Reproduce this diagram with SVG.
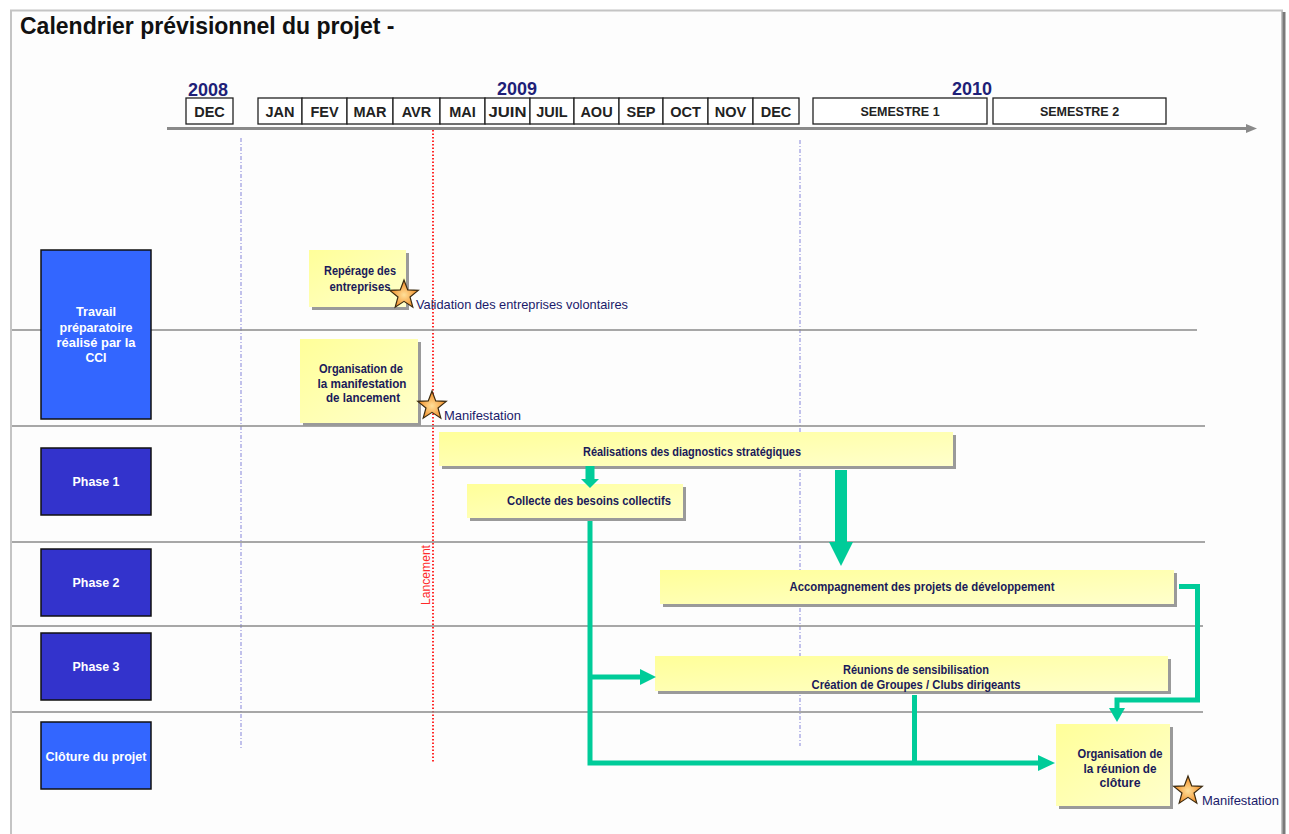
<svg xmlns="http://www.w3.org/2000/svg" width="1289" height="834" viewBox="0 0 1289 834">
  <style>
    .title { font-family: "Liberation Sans", Arial, sans-serif; font-weight: bold; font-size: 23px; fill: #111; }
    .year { font-family: "Liberation Sans", Arial, sans-serif; font-weight: bold; font-size: 18px; fill: #1f1f78; text-anchor: middle; }
    .mbox { fill: #fff; stroke: #222; stroke-width: 1.3; }
    .mtxt { font-family: "Liberation Sans", Arial, sans-serif; font-weight: bold; font-size: 14.5px; fill: #222; text-anchor: middle; }
    .stxt { font-family: "Liberation Sans", Arial, sans-serif; font-weight: bold; font-size: 12.5px; fill: #222; text-anchor: middle; }
    .row { stroke: #8a8a8a; stroke-width: 1.5; }
    .vguide { stroke: #9a9ae0; stroke-width: 1.2; stroke-dasharray: 4 2 1 2; }
    .launch { stroke: #ff2a2a; stroke-width: 2; stroke-dasharray: 1.5 2; }
    .lbl-light { fill: #3366ff; stroke: #111; stroke-width: 1.5; }
    .lbl-dark { fill: #3333cc; stroke: #111; stroke-width: 1.5; }
    .ltxt { font-family: "Liberation Sans", Arial, sans-serif; font-weight: bold; font-size: 12.5px; fill: #fff; text-anchor: middle; }
    .task { fill: url(#yel); }
    .shadow { fill: #9a9a9a; }
    .ttxt { font-family: "Liberation Sans", Arial, sans-serif; font-weight: bold; font-size: 13.5px; fill: #1a1a5a; text-anchor: middle; }
    .note { font-family: "Liberation Sans", Arial, sans-serif; font-size: 13px; fill: #1a1a6a; }
    .flow { fill: none; stroke: #00cc99; stroke-width: 5; }
    .head { fill: #00cc99; }
  </style>
  <defs>
    <linearGradient id="yel" x1="0" y1="0" x2="1" y2="1">
      <stop offset="0" stop-color="#ffff99"/>
      <stop offset="1" stop-color="#ffffcc"/>
    </linearGradient>
    <radialGradient id="starfill" cx="0.5" cy="0.55" r="0.55">
      <stop offset="0" stop-color="#ffe09a"/>
      <stop offset="1" stop-color="#f0841a"/>
    </radialGradient>
    <path id="star" d="M0,-15 L3.73,-5.13 L14.27,-4.64 L6.03,1.96 L8.82,12.14 L0,6.35 L-8.82,12.14 L-6.03,1.96 L-14.27,-4.64 L-3.73,-5.13 Z" fill="url(#starfill)" stroke="#3a2a10" stroke-width="1.2" stroke-linejoin="miter"/>
  </defs>

  <!-- page frame -->
  <rect x="0" y="0" width="1289" height="834" fill="#fff"/>
  <rect x="11" y="10.5" width="1271" height="840" fill="#fdfdfd" stroke="#c4c4c4" stroke-width="2"/>
  <line x1="1284" y1="12" x2="1284" y2="834" stroke="#7a7a7a" stroke-width="3"/>

  <text class="title" x="20" y="34">Calendrier prévisionnel du projet -</text>

  <!-- timeline header -->
  <g id="timeline">
    <text class="year" x="208" y="96">2008</text>
    <text class="year" x="517" y="95">2009</text>
    <text class="year" x="972" y="95">2010</text>

    <rect class="mbox" x="186" y="98" width="47" height="26"/>
    <text class="mtxt" x="209.5" y="116.5">DEC</text>

    <rect class="mbox" x="258" y="98" width="44" height="26"/>
    <text class="mtxt" x="280" y="116.5">JAN</text>
    <rect class="mbox" x="302" y="98" width="45" height="26"/>
    <text class="mtxt" x="324.5" y="116.5">FEV</text>
    <rect class="mbox" x="347" y="98" width="46" height="26"/>
    <text class="mtxt" x="370" y="116.5">MAR</text>
    <rect class="mbox" x="393" y="98" width="47" height="26"/>
    <text class="mtxt" x="416.5" y="116.5">AVR</text>
    <rect class="mbox" x="440" y="98" width="45" height="26"/>
    <text class="mtxt" x="462.5" y="116.5">MAI</text>
    <rect class="mbox" x="485" y="98" width="45" height="26"/>
    <text class="mtxt" x="507.5" y="116.5" textLength="38" lengthAdjust="spacingAndGlyphs">JUIN</text>
    <rect class="mbox" x="530" y="98" width="44" height="26"/>
    <text class="mtxt" x="552" y="116.5">JUIL</text>
    <rect class="mbox" x="574" y="98" width="45" height="26"/>
    <text class="mtxt" x="596.5" y="116.5">AOU</text>
    <rect class="mbox" x="619" y="98" width="44" height="26"/>
    <text class="mtxt" x="641" y="116.5">SEP</text>
    <rect class="mbox" x="663" y="98" width="45" height="26"/>
    <text class="mtxt" x="685.5" y="116.5">OCT</text>
    <rect class="mbox" x="708" y="98" width="45" height="26"/>
    <text class="mtxt" x="730.5" y="116.5">NOV</text>
    <rect class="mbox" x="753" y="98" width="46" height="26"/>
    <text class="mtxt" x="776" y="116.5">DEC</text>

    <rect class="mbox" x="813" y="98" width="174" height="26"/>
    <text class="stxt" x="900" y="116">SEMESTRE 1</text>
    <rect class="mbox" x="993" y="98" width="173" height="26"/>
    <text class="stxt" x="1079.5" y="116">SEMESTRE 2</text>

    <line x1="167" y1="128.5" x2="1248" y2="128.5" stroke="#8a8a8a" stroke-width="3"/>
    <polygon points="1246,124 1257,128.5 1246,133" fill="#8a8a8a"/>
  </g>

  <!-- guides -->
  <g id="guides">
    <line class="vguide" x1="241" y1="138" x2="241" y2="750"/>
    <line class="vguide" x1="800" y1="140" x2="800" y2="746"/>
    <line class="launch" x1="433" y1="130" x2="433" y2="763"/>
    <text x="0" y="0" transform="translate(429.5,605) rotate(-90)" font-family="'Liberation Sans', Arial, sans-serif" font-size="12.5" fill="#ff2a2a" textLength="60" lengthAdjust="spacingAndGlyphs">Lancement</text>
  </g>

  <!-- row separators -->
  <g id="rows">
    <line class="row" x1="12" y1="330" x2="1197" y2="330"/>
    <line class="row" x1="12" y1="426" x2="1205" y2="426"/>
    <line class="row" x1="12" y1="542" x2="1205" y2="542"/>
    <line class="row" x1="12" y1="626" x2="1203" y2="626"/>
    <line class="row" x1="12" y1="712" x2="1203" y2="712"/>
  </g>

  <!-- row labels -->
  <g id="lbl-prep">
    <rect class="lbl-light" x="41" y="250" width="110" height="169"/>
    <text class="ltxt" x="96" y="316" textLength="40" lengthAdjust="spacingAndGlyphs">Travail</text>
    <text class="ltxt" x="96" y="332" textLength="73" lengthAdjust="spacingAndGlyphs">préparatoire</text>
    <text class="ltxt" x="96" y="347" textLength="79" lengthAdjust="spacingAndGlyphs">réalisé par la</text>
    <text class="ltxt" x="96" y="362" textLength="21" lengthAdjust="spacingAndGlyphs">CCI</text>
  </g>
  <g id="lbl-phase1">
    <rect class="lbl-dark" x="41" y="448" width="110" height="67"/>
    <text class="ltxt" x="96" y="486" textLength="47" lengthAdjust="spacingAndGlyphs">Phase 1</text>
  </g>
  <g id="lbl-phase2">
    <rect class="lbl-dark" x="41" y="549" width="110" height="67"/>
    <text class="ltxt" x="96" y="587" textLength="47" lengthAdjust="spacingAndGlyphs">Phase 2</text>
  </g>
  <g id="lbl-phase3">
    <rect class="lbl-dark" x="41" y="633" width="110" height="67"/>
    <text class="ltxt" x="96" y="671" textLength="47" lengthAdjust="spacingAndGlyphs">Phase 3</text>
  </g>
  <g id="lbl-cloture">
    <rect class="lbl-light" x="41" y="722" width="110" height="67"/>
    <text class="ltxt" x="96" y="761" textLength="101" lengthAdjust="spacingAndGlyphs">Clôture du projet</text>
  </g>

  <!-- tasks -->
  <g id="task-reperage">
    <rect class="shadow" x="312" y="253" width="97" height="57"/>
    <rect class="task" x="309" y="250" width="97" height="57"/>
    <text class="ttxt" x="360" y="275" textLength="72" lengthAdjust="spacingAndGlyphs">Repérage des</text>
    <text class="ttxt" x="360" y="291" textLength="61" lengthAdjust="spacingAndGlyphs">entreprises</text>
  </g>
  <g id="task-lancement">
    <rect class="shadow" x="303" y="342" width="118" height="84"/>
    <rect class="task" x="300" y="339" width="118" height="84"/>
    <text class="ttxt" x="361" y="373" textLength="84" lengthAdjust="spacingAndGlyphs">Organisation de</text>
    <text class="ttxt" x="362" y="388" textLength="89" lengthAdjust="spacingAndGlyphs">la manifestation</text>
    <text class="ttxt" x="363" y="402" textLength="74" lengthAdjust="spacingAndGlyphs">de lancement</text>
  </g>
  <g id="task-diagnostics">
    <rect class="shadow" x="442" y="435" width="514" height="34"/>
    <rect class="task" x="439" y="432" width="514" height="34"/>
    <text class="ttxt" x="692" y="456" textLength="218" lengthAdjust="spacingAndGlyphs">Réalisations des diagnostics stratégiques</text>
  </g>
  <g id="task-collecte">
    <rect class="shadow" x="470" y="487" width="216" height="34"/>
    <rect class="task" x="467" y="484" width="216" height="34"/>
    <text class="ttxt" x="589" y="505" textLength="164" lengthAdjust="spacingAndGlyphs">Collecte des besoins collectifs</text>
  </g>
  <g id="task-accompagnement">
    <rect class="shadow" x="663" y="573" width="514" height="34"/>
    <rect class="task" x="660" y="570" width="514" height="34"/>
    <text class="ttxt" x="922" y="591" textLength="265" lengthAdjust="spacingAndGlyphs">Accompagnement des projets de développement</text>
  </g>
  <g id="task-reunions">
    <rect class="shadow" x="658" y="659" width="513" height="35"/>
    <rect class="task" x="655" y="656" width="513" height="35"/>
    <text class="ttxt" x="916" y="674" textLength="146" lengthAdjust="spacingAndGlyphs">Réunions de sensibilisation</text>
    <text class="ttxt" x="916" y="689" textLength="209" lengthAdjust="spacingAndGlyphs">Création de Groupes / Clubs dirigeants</text>
  </g>
  <g id="task-cloture">
    <rect class="shadow" x="1059" y="727" width="114" height="82"/>
    <rect class="task" x="1056" y="724" width="114" height="82"/>
    <text class="ttxt" x="1120" y="758" textLength="85" lengthAdjust="spacingAndGlyphs">Organisation de</text>
    <text class="ttxt" x="1120" y="773" textLength="73" lengthAdjust="spacingAndGlyphs">la réunion de</text>
    <text class="ttxt" x="1120" y="787" textLength="41" lengthAdjust="spacingAndGlyphs">clôture</text>
  </g>

  <!-- connectors -->
  <g id="connectors">
    <!-- diagnostics -> collecte -->
    <rect class="head" x="585.5" y="466" width="9" height="14"/>
    <polygon class="head" points="581,479 599,479 590,488"/>
    <!-- diagnostics -> accompagnement -->
    <rect class="head" x="835" y="470" width="12" height="74"/>
    <polygon class="head" points="829,542 853,542 841,566"/>
    <!-- collecte -> clôture, with branch to réunions -->
    <polyline class="flow" points="590,521 590,763 1040,763"/>
    <polygon class="head" points="1038,755 1055,763 1038,771"/>
    <line class="flow" x1="590" y1="677" x2="642" y2="677"/>
    <polygon class="head" points="640,669 656,677 640,685"/>
    <!-- réunions -> clôture -->
    <line class="flow" x1="914.5" y1="695" x2="914.5" y2="763"/>
    <!-- accompagnement -> clôture -->
    <polyline class="flow" points="1179,586.5 1197.5,586.5 1197.5,700 1117,700 1117,710"/>
    <polygon class="head" points="1109,708 1125,708 1117,722"/>
  </g>

  <!-- milestones -->
  <g id="milestone-validation">
    <use href="#star" x="404" y="295"/>
    <text class="note" x="416" y="309" textLength="212" lengthAdjust="spacingAndGlyphs">Validation des entreprises volontaires</text>
  </g>
  <g id="milestone-lancement">
    <use href="#star" x="432" y="406"/>
    <text class="note" x="444" y="420" textLength="77" lengthAdjust="spacingAndGlyphs">Manifestation</text>
  </g>
  <g id="milestone-cloture">
    <use href="#star" x="1188" y="791"/>
    <text class="note" x="1202" y="805" textLength="77" lengthAdjust="spacingAndGlyphs">Manifestation</text>
  </g>
</svg>
